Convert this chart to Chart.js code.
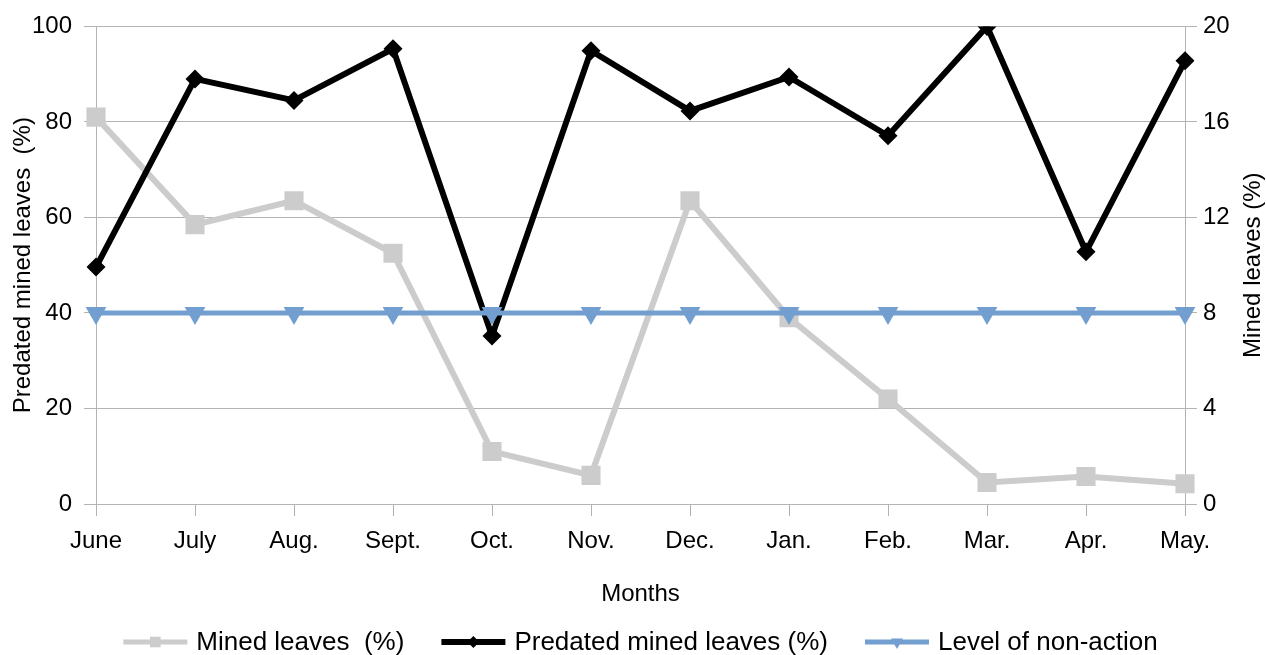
<!DOCTYPE html>
<html>
<head>
<meta charset="utf-8">
<script src="https://cdn.jsdelivr.net/npm/chart.js@4/dist/chart.umd.min.js"></script>
<style>
  html, body { margin: 0; padding: 0; background: #ffffff; }
  canvas { display: block; }
</style>
</head>
<body>
<canvas id="chart" width="1266" height="655"></canvas>
<script>
// Monthly survey: share of mined leaves and share of mined leaves predated
const months = ['June', 'July', 'Aug.', 'Sept.', 'Oct.', 'Nov.', 'Dec.', 'Jan.', 'Feb.', 'Mar.', 'Apr.', 'May.'];
const minedLeaves = [16.2, 11.7, 12.7, 10.5, 2.2, 1.2, 12.7, 7.8, 4.4, 0.9, 1.15, 0.85];
const predatedMinedLeaves = [49.6, 89.0, 84.5, 95.3, 35.2, 94.9, 82.3, 89.4, 77.1, 100, 52.8, 92.8];
const nonActionLevel = [40, 40, 40, 40, 40, 40, 40, 40, 40, 40, 40, 40];

const seriesNames = ['Mined leaves  (%)', 'Predated mined leaves (%)', 'Level of non-action'];
const leftTicks = [0, 20, 40, 60, 80, 100];
const rightTicks = [0, 4, 8, 12, 16, 20];
const rightAxisTitle = 'Mined leaves (%)';

const FONT = '"Liberation Sans", Arial, sans-serif';
const GRID = '#b3b3b3';
const GREY = '#cccccc';
const BLUE = '#729fcf';

// Draws a small marker shape used for the legend samples
function drawMarker(ctx, style, x, y, r, color) {
  ctx.save();
  ctx.fillStyle = color;
  ctx.beginPath();
  if (style === 'rect') {
    const s = r * Math.SQRT1_2;
    ctx.rect(x - s, y - s, 2 * s, 2 * s);
  } else if (style === 'rectRot') {
    ctx.moveTo(x - r, y);
    ctx.lineTo(x, y - r);
    ctx.lineTo(x + r, y);
    ctx.lineTo(x, y + r);
    ctx.closePath();
  } else {
    // downward triangle
    const h = r * Math.sqrt(3) / 2;
    ctx.moveTo(x, y + r);
    ctx.lineTo(x - h, y - r / 2);
    ctx.lineTo(x + h, y - r / 2);
    ctx.closePath();
  }
  ctx.fill();
  ctx.restore();
}

// Legend drawn as line samples with a marker, centred under the plot area
const lineLegend = {
  id: 'lineLegend',
  afterDraw(chart) {
    const ctx = chart.ctx;
    const area = chart.chartArea;
    const sample = 64, gap = 9, spacing = 37, y = 642;
    ctx.save();
    ctx.font = '26px ' + FONT;
    const items = chart.data.datasets.map(ds => ({ ds, w: ctx.measureText(ds.label).width }));
    const total = items.reduce((s, it) => s + sample + gap + it.w, 0) + spacing * (items.length - 1);
    let x = (area.left + area.right) / 2 - total / 2;
    items.forEach(({ ds, w }) => {
      ctx.strokeStyle = ds.borderColor;
      ctx.lineWidth = ds.legendLineWidth;
      ctx.lineCap = 'butt';
      ctx.beginPath();
      ctx.moveTo(x, y);
      ctx.lineTo(x + sample, y);
      ctx.stroke();
      drawMarker(ctx, ds.legendMarker, x + sample / 2, y, ds.legendMarkerRadius, ds.pointBackgroundColor);
      ctx.fillStyle = '#000000';
      ctx.textAlign = 'left';
      ctx.textBaseline = 'middle';
      ctx.fillText(ds.label, x + sample + gap, y + 1);
      x += sample + gap + w + spacing;
    });
    ctx.restore();
  }
};

// Right-hand axis title, reading bottom-to-top like the left one
const rightTitle = {
  id: 'rightTitle',
  afterDraw(chart) {
    const ctx = chart.ctx;
    const area = chart.chartArea;
    ctx.save();
    ctx.translate(1253, (area.top + area.bottom) / 2);
    ctx.rotate(-Math.PI / 2);
    ctx.font = '24px ' + FONT;
    ctx.fillStyle = '#000000';
    ctx.textAlign = 'center';
    ctx.textBaseline = 'middle';
    ctx.fillText(rightAxisTitle, 0, 0);
    ctx.restore();
  }
};

new Chart(document.getElementById('chart'), {
  type: 'line',
  data: {
    labels: months,
    datasets: [
      {
        label: seriesNames[0],
        data: minedLeaves,
        yAxisID: 'y1',
        borderColor: GREY,
        backgroundColor: GREY,
        borderWidth: 6,
        pointStyle: 'rect',
        pointRadius: 13.5,
        pointBackgroundColor: GREY,
        pointBorderColor: GREY,
        pointBorderWidth: 0,
        legendLineWidth: 5,
        legendMarker: 'rect',
        legendMarkerRadius: 7.5,
        tension: 0,
        order: 3
      },
      {
        label: seriesNames[1],
        data: predatedMinedLeaves,
        yAxisID: 'y',
        borderColor: '#000000',
        backgroundColor: '#000000',
        borderWidth: 6,
        pointStyle: 'rectRot',
        pointRadius: 9.5,
        pointBackgroundColor: '#000000',
        pointBorderColor: '#000000',
        pointBorderWidth: 0,
        legendLineWidth: 6,
        legendMarker: 'rectRot',
        legendMarkerRadius: 6,
        tension: 0,
        order: 2
      },
      {
        label: seriesNames[2],
        data: nonActionLevel,
        yAxisID: 'y',
        borderColor: BLUE,
        backgroundColor: BLUE,
        borderWidth: 5,
        pointStyle: 'triangle',
        rotation: 180,
        pointRadius: 12,
        pointBackgroundColor: BLUE,
        pointBorderColor: BLUE,
        pointBorderWidth: 0,
        legendLineWidth: 5,
        legendMarker: 'triangle',
        legendMarkerRadius: 7,
        tension: 0,
        order: 1
      }
    ]
  },
  options: {
    responsive: false,
    animation: false,
    events: [],
    layout: { padding: { top: 24, bottom: 42, left: 0, right: 0 } },
    plugins: {
      legend: { display: false },
      tooltip: { enabled: false }
    },
    scales: {
      x: {
        type: 'category',
        offset: false,
        grid: {
          display: true,
          drawOnChartArea: false,
          drawTicks: true,
          tickLength: 12,
          color: GRID
        },
        border: { display: true, color: GRID, width: 1 },
        ticks: {
          color: '#000000',
          font: { family: FONT, size: 24 },
          padding: 11,
          maxRotation: 0,
          autoSkip: false
        },
        title: {
          display: true,
          text: 'Months',
          color: '#000000',
          font: { family: FONT, size: 24 },
          padding: { top: 4, bottom: 4 }
        },
        afterFit(scale) { scale.height = 109; }
      },
      y: {
        position: 'left',
        min: 0,
        max: 100,
        afterBuildTicks(scale) { scale.ticks = leftTicks.map(v => ({ value: v })); },
        grid: {
          color: GRID,
          lineWidth: 1,
          drawTicks: true,
          tickLength: 12
        },
        border: { display: true, color: GRID, width: 1 },
        ticks: {
          color: '#000000',
          font: { family: FONT, size: 24 },
          padding: 12
        },
        title: {
          display: true,
          text: 'Predated mined leaves  (%)',
          color: '#000000',
          font: { family: FONT, size: 24 },
          padding: { top: 9, bottom: 0 }
        },
        afterFit(scale) { scale.width = 96; }
      },
      y1: {
        position: 'right',
        min: 0,
        max: 20,
        afterBuildTicks(scale) { scale.ticks = rightTicks.map(v => ({ value: v })); },
        grid: {
          color: GRID,
          lineWidth: 1,
          drawOnChartArea: false,
          drawTicks: true,
          tickLength: 12
        },
        border: { display: true, color: GRID, width: 1 },
        ticks: {
          color: '#000000',
          font: { family: FONT, size: 24 },
          padding: 6
        },
        title: { display: false },
        afterFit(scale) { scale.width = 81; }
      }
    }
  },
  plugins: [lineLegend, rightTitle]
});
</script>
</body>
</html>
